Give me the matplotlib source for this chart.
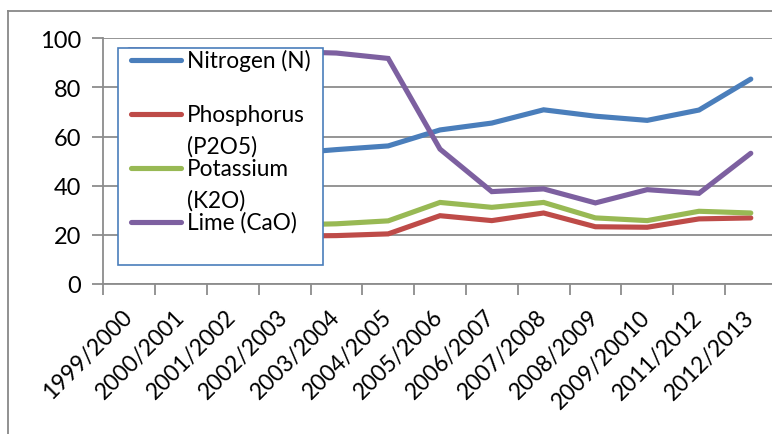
import matplotlib
matplotlib.use("Agg")
import matplotlib.pyplot as plt
from matplotlib.patches import Rectangle
from matplotlib.lines import Line2D

plt.rcParams['font.family'] = ['Lato', 'DejaVu Sans']

seasons = ['1999/2000', '2000/2001', '2001/2002', '2002/2003', '2003/2004',
           '2004/2005', '2005/2006', '2006/2007', '2007/2008', '2008/2009',
           '2009/20010', '2011/2012', '2012/2013']
nitrogen = [50, 52, 51, 53, 54.7, 56.2, 62.7, 65.5, 70.9, 68.3, 66.6, 70.8, 83.4]
phosphorus = [20, 19, 19.5, 19.5, 19.7, 20.4, 27.8, 25.8, 28.9, 23.3, 23.1, 26.5, 26.9]
potassium = [24, 23, 24, 24, 24.5, 25.7, 33.2, 31.2, 33.2, 26.9, 25.8, 29.6, 28.9]
lime = [95.3, 95.1, 94.9, 94.6, 94.0, 91.8, 54.9, 37.6, 38.7, 33.0, 38.4, 36.9, 53.2]
yticks = [0, 20, 40, 60, 80, 100]

labels = ['Nitrogen (N)', 'Phosphorus\n(P2O5)', 'Potassium\n(K2O)', 'Lime (CaO)']
colors = ['#4A7EBB', '#BE4B48', '#98B954', '#7D60A0']
series = [nitrogen, phosphorus, potassium, lime]

W, H = 772, 435
fig = plt.figure(figsize=(W / 100, H / 100), dpi=100)

def fx(x):
    return x / W

def fy(y):
    return 1 - y / H

# outer chart frame (cropped at right/bottom)
fig.add_artist(Line2D([fx(8), fx(8)], [fy(12), fy(440)], color='#888888', lw=1.3))
fig.add_artist(Line2D([fx(8), fx(780)], [fy(12), fy(12)], color='#888888', lw=1.3))

x0, x1 = 103.3, 103.3 + 13 * 51.8
ytop, ybot = 39.3, 285
ax = fig.add_axes([fx(x0), fy(ybot), fx(x1) - fx(x0), fy(ytop) - fy(ybot)])
ax.set_xlim(-0.5, len(seasons) - 0.5)
ax.set_ylim(0, 100)

xs = list(range(len(seasons)))
for vals, c in zip(series, colors):
    ax.plot(xs, vals, color=c, lw=3.7, solid_capstyle='round', solid_joinstyle='miter', zorder=3)

ax.set_yticks(yticks)
ax.set_yticklabels([str(v) for v in yticks], fontsize=17)
ax.yaxis.grid(True, color='#8C8C8C', lw=1.3)
ax.set_axisbelow(True)
ax.set_xticks([i - 0.5 for i in range(len(seasons) + 1)], minor=False)
ax.set_xticklabels([])
ax.set_xticks(xs, minor=True)
ax.set_xticklabels(seasons, minor=True, rotation=45, ha='right', va='center',
                   rotation_mode='anchor', fontsize=16.5)
ax.tick_params(axis='x', which='minor', length=0, pad=21)
ax.tick_params(axis='x', which='major', length=8, width=1.3, color='#8C8C8C')
ax.tick_params(axis='y', length=8, width=1.3, color='#8C8C8C', pad=8)
for s in ['top', 'right']:
    ax.spines[s].set_visible(False)
for s in ['left', 'bottom']:
    ax.spines[s].set_color('#8C8C8C')
    ax.spines[s].set_linewidth(1.3)

# legend box drawn like the original (opaque, over the plot)
fig.add_artist(Rectangle((fx(117.7), fy(266)), fx(322.7) - fx(117.7), fy(49.3) - fy(266),
                         facecolor='white', edgecolor='#4A7EBB', lw=1.2, zorder=10))
entry_y = [61, 115, 169, 223]
for lab, c, yy in zip(labels, colors, entry_y):
    fig.add_artist(Line2D([fx(131), fx(181)], [fy(yy), fy(yy)], color=c, lw=3.7,
                          solid_capstyle='round', zorder=11))
    for k, part in enumerate(lab.split('\n')):
        fig.text(fx(187), fy(yy + 31.7 * k), part, fontsize=16.3, va='center', ha='left',
                 zorder=12)

fig.savefig('out.png', dpi=100)
